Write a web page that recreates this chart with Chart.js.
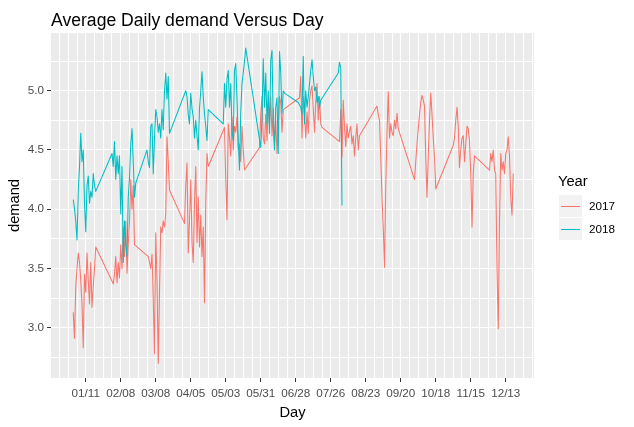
<!DOCTYPE html>
<html>
<head>
<meta charset="utf-8">
<script src="https://cdn.jsdelivr.net/npm/chart.js@4.4.0/dist/chart.umd.min.js"></script>
<style>
  html, body { margin: 0; padding: 0; background: #ffffff; }
  canvas { display: block; }
</style>
</head>
<body>
<canvas id="myChart" width="634" height="427"></canvas>
<script>
// day of year (both years drawn on the same Jan-Dec axis)
const days2017 = [
  1,2,3,4,5,6,7,8,9,10,11,12,13,14,15,16,17,18,19,
  33,34,35,36,37,38,39,40,41,42,43,44,45,46,47,48,49,50,
  61,62,63,64,65,66,67,68,69,70,71,72,73,74,75,76,77,78,
  90,91,92,93,94,95,96,97,98,99,100,101,102,103,104,105,106,107,108,109,
  122,123,124,125,126,127,128,129,130,131,132,133,134,135,136,137,138,
  150,151,152,153,154,155,156,157,158,159,160,161,162,163,164,165,166,167,168,169,
  182,183,184,185,186,187,188,189,190,191,192,193,194,195,196,197,198,199,200,
  214,215,216,217,218,219,220,221,222,223,224,225,226,227,228,229,230,
  244,245,246,247,248,249,250,251,252,253,254,255,256,257,258,259,260,261,
  274,275,276,277,278,279,280,281,282,283,284,285,286,287,288,289,290,291,
  305,306,307,308,309,310,311,312,313,314,315,316,317,318,319,320,321,322,
  334,335,336,337,338,339,340,341,342,343,344,345,346,347,348,349,350,351,352,353
];
const demand2017 = [
  3.13,2.91,3.34,3.50,3.63,3.55,3.40,3.20,2.83,3.45,3.30,3.63,3.40,3.20,3.55,3.17,3.35,3.50,3.68,
  3.37,3.45,3.60,3.38,3.55,3.42,3.70,3.50,3.85,3.60,3.90,3.46,3.70,3.90,4.25,4.00,4.20,3.70,
  3.60,3.55,3.50,3.62,3.25,2.78,3.80,3.40,2.70,3.30,3.85,3.80,3.90,3.85,3.97,4.61,4.40,4.16,
  3.88,4.20,4.39,3.63,3.90,4.25,3.72,3.55,4.05,4.36,3.72,4.10,3.68,3.95,3.60,3.85,3.21,4.05,4.47,4.36,
  4.69,4.25,3.91,4.72,4.60,4.45,4.78,4.50,4.70,4.65,4.78,4.50,4.55,4.40,4.70,4.50,4.33,
  4.52,4.80,4.95,4.60,4.55,4.80,4.58,4.90,4.70,4.95,4.62,4.85,4.55,4.75,4.47,4.68,4.95,4.90,4.65,4.84,
  4.94,5.12,4.60,4.95,4.80,4.60,4.82,4.64,4.92,5.00,5.04,4.85,4.65,4.90,5.06,4.75,4.95,4.72,4.69,
  4.57,4.84,4.44,4.92,4.70,4.53,4.72,4.60,4.66,4.70,4.55,4.62,4.45,4.60,4.72,4.50,4.62,
  4.87,4.80,4.75,4.44,4.10,3.85,3.51,4.20,4.65,4.99,4.60,4.72,4.65,4.62,4.75,4.68,4.81,4.68,
  4.25,4.40,4.55,4.68,4.80,4.90,4.96,4.92,4.87,4.44,4.10,4.45,4.75,4.98,4.80,4.60,4.44,4.17,
  4.54,4.60,4.75,4.86,4.70,4.35,4.50,4.60,4.62,4.40,4.55,4.70,4.68,4.58,4.30,3.85,4.30,4.45,
  4.33,4.47,4.40,4.50,4.33,4.30,3.50,2.99,3.90,4.47,4.33,4.40,4.30,4.47,4.50,4.61,4.45,4.10,3.95,4.30
];
const days2018 = [
  1,2,3,4,5,6,7,8,9,10,11,12,13,14,15,16,17,18,19,
  32,33,34,35,36,37,38,39,40,41,42,43,44,45,46,47,48,49,50,51,
  60,61,62,63,64,65,66,67,68,69,70,71,72,73,74,75,76,77,78,
  91,92,93,94,95,96,97,98,99,100,101,102,103,104,105,106,107,108,109,
  121,122,123,124,125,126,127,128,129,130,131,132,133,134,135,136,137,138,139,
  151,152,153,154,155,156,157,158,159,160,161,162,163,164,165,166,167,168,169,170,
  181,182,183,184,185,186,187,188,189,190,191,192,193,194,195,196,197,198,199,
  213,214,215,216
];
const demand2018 = [
  4.08,4.00,3.90,3.74,4.15,4.36,4.64,4.40,4.50,4.05,3.81,4.20,4.28,4.05,4.15,4.10,4.30,4.20,4.15,
  4.47,4.36,4.57,4.25,4.45,4.30,4.45,3.96,4.36,3.55,3.90,3.70,3.60,4.10,4.27,4.55,4.68,4.40,4.10,4.22,
  4.50,4.40,4.35,4.70,4.72,4.30,4.60,4.84,4.78,4.65,4.72,4.60,4.84,4.67,5.00,5.15,4.93,5.12,4.64,
  5.00,4.95,4.80,4.72,4.98,4.85,4.78,4.60,4.75,4.62,4.50,4.85,5.00,5.16,4.95,4.80,4.70,4.58,4.84,
  4.72,5.06,4.86,5.10,5.17,4.86,5.06,4.66,4.58,5.17,5.23,4.93,4.58,4.33,4.82,5.06,5.15,5.25,5.36,
  4.52,4.78,5.27,4.86,5.15,4.72,5.00,4.64,5.26,5.34,4.72,4.50,4.86,4.94,4.47,5.33,5.15,4.81,5.00,4.98,
  4.90,4.88,4.86,4.80,5.29,4.72,5.00,4.86,4.95,5.06,5.17,5.26,5.12,5.00,5.03,4.90,4.95,4.86,4.92,
  5.15,5.24,5.19,4.03
];
const seriesNames = ['2017', '2018'];
const seriesColors = ['#F8766D', '#00BFC4'];
const tickDays = [11, 39, 67, 95, 123, 151, 179, 207, 235, 263, 291, 319, 347];
const tickLabels = ['01/11','02/08','03/08','04/05','05/03','05/31','06/28','07/26','08/23','09/20','10/18','11/15','12/13'];
const yTicks = [3.0, 3.5, 4.0, 4.5, 5.0];

const FONT = '"Liberation Sans", Arial, sans-serif';

// weekly grid lines, labels every 4 weeks
const weekGrid = [];
for (let d = tickDays[0] - 21; d <= tickDays[tickDays.length - 1] + 21; d += 7) weekGrid.push(d);
const yGrid = [];
for (let v = yTicks[0] - 0.25; v <= yTicks[yTicks.length - 1] + 0.26; v += 0.25) yGrid.push(+v.toFixed(2));

const ggDecor = {
  id: 'ggDecor',
  beforeDraw(chart) {
    const { ctx, chartArea: a } = chart;
    ctx.save();
    ctx.fillStyle = '#EBEBEB';
    ctx.fillRect(a.left, a.top, a.right - a.left, a.bottom - a.top);
    ctx.restore();
  },
  afterDraw(chart) {
    const { ctx, chartArea: a } = chart;
    ctx.save();
    ctx.fillStyle = '#000000';
    ctx.textBaseline = 'alphabetic';
    ctx.textAlign = 'left';
    ctx.font = '17.6px ' + FONT;
    ctx.fillText('Average Daily demand Versus Day', a.left, 25.5);

    ctx.font = '14.7px ' + FONT;
    ctx.textAlign = 'center';
    ctx.fillText('Day', (a.left + a.right) / 2, 416.5);
    ctx.save();
    ctx.translate(19, (a.top + a.bottom) / 2);
    ctx.rotate(-Math.PI / 2);
    ctx.fillText('demand', 0, 0);
    ctx.restore();

    // legend
    ctx.textAlign = 'left';
    ctx.fillText('Year', 558, 185.7);
    ctx.font = '11.7px ' + FONT;
    seriesNames.forEach((name, i) => {
      const top = 195 + i * 23;
      ctx.fillStyle = '#F2F2F2';
      ctx.fillRect(559, top, 23, 22);
      ctx.strokeStyle = seriesColors[i];
      ctx.lineWidth = 1.07;
      ctx.beginPath();
      ctx.moveTo(561, top + 11.5);
      ctx.lineTo(580, top + 11.5);
      ctx.stroke();
      ctx.fillStyle = '#000000';
      ctx.fillText(name, 589, top + 15);
    });
    ctx.restore();
  }
};

new Chart(document.getElementById('myChart'), {
  type: 'line',
  data: {
    datasets: [
      {
        label: seriesNames[0],
        data: days2017.map((d, i) => ({ x: d, y: demand2017[i] })),
        borderColor: seriesColors[0],
        order: 2
      },
      {
        label: seriesNames[1],
        data: days2018.map((d, i) => ({ x: d, y: demand2018[i] })),
        borderColor: seriesColors[1],
        order: 1
      }
    ]
  },
  options: {
    responsive: false,
    animation: false,
    devicePixelRatio: 1,
    layout: { padding: { top: 33, right: 100, left: 0, bottom: 0 } },
    elements: {
      line: { borderWidth: 1.07, tension: 0, borderJoinStyle: 'round', fill: false },
      point: { radius: 0, hoverRadius: 0 }
    },
    plugins: {
      legend: { display: false },
      tooltip: { enabled: false }
    },
    scales: {
      x: {
        type: 'linear',
        min: -16.8,
        max: 369.6,
        afterBuildTicks: s => { s.ticks = weekGrid.map(v => ({ value: v })); },
        afterFit: s => { s.height = 49; },
        border: { display: false },
        grid: {
          color: '#FFFFFF',
          lineWidth: 1,
          tickLength: 4,
          tickColor: c => tickDays.includes(c.tick && c.tick.value) ? '#333333' : 'rgba(0,0,0,0)'
        },
        ticks: {
          autoSkip: false,
          maxRotation: 0,
          minRotation: 0,
          padding: 5,
          color: '#4D4D4D',
          font: { family: FONT, size: 11.7 },
          callback: v => {
            const k = tickDays.indexOf(v);
            return k >= 0 ? tickLabels[k] : '';
          }
        }
      },
      y: {
        type: 'linear',
        min: 2.575,
        max: 5.487,
        afterBuildTicks: s => { s.ticks = yGrid.map(v => ({ value: v })); },
        afterFit: s => { s.width = 51; },
        border: { display: false },
        grid: {
          color: '#FFFFFF',
          lineWidth: 1,
          tickLength: 4,
          tickColor: c => yTicks.includes(c.tick && c.tick.value) ? '#333333' : 'rgba(0,0,0,0)'
        },
        ticks: {
          padding: 3,
          color: '#4D4D4D',
          font: { family: FONT, size: 11.7 },
          callback: v => yTicks.includes(v) ? v.toFixed(1) : ''
        }
      }
    }
  },
  plugins: [ggDecor]
});
</script>
</body>
</html>
